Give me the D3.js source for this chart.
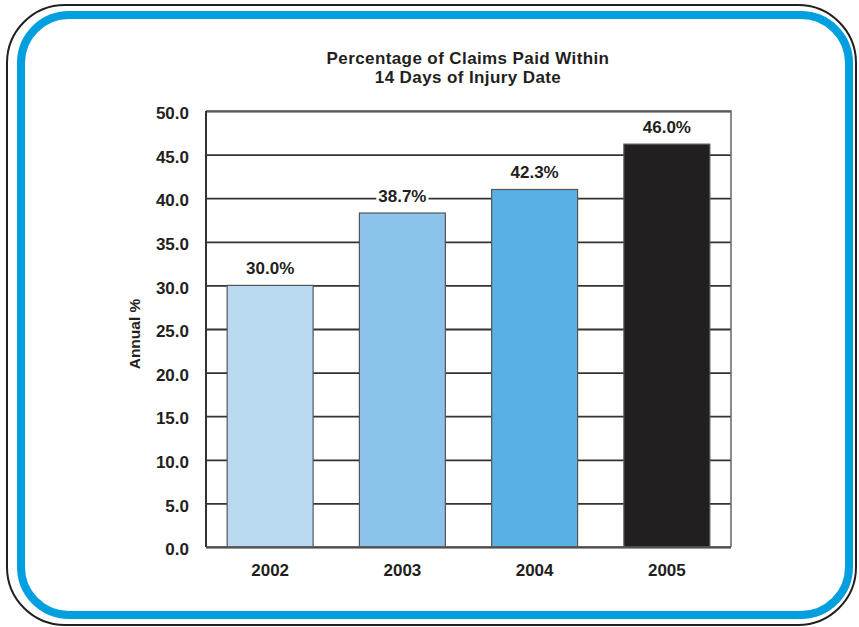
<!DOCTYPE html>
<html>
<head>
<meta charset="utf-8">
<script src="https://cdn.jsdelivr.net/npm/d3@7/dist/d3.min.js"></script>
<style>
  html, body { margin: 0; padding: 0; background: #fff; }
  svg { display: block; font-family: "Liberation Sans", Arial, sans-serif; }
</style>
</head>
<body>
<svg width="859" height="627"></svg>
<script>
// data
const years = ["2002", "2003", "2004", "2005"];
const barValues = [30.0, 38.3, 41.0, 46.2];          // bar heights as drawn
const valueLabels = ["30.0%", "38.7%", "42.3%", "46.0%"]; // printed labels
const barColors = ["#b9d9f1", "#8cc3ea", "#59b1e3", "#231f20"];
const yTicks = [0, 5, 10, 15, 20, 25, 30, 35, 40, 45, 50];
const titleLines = ["Percentage of Claims Paid Within", "14 Days of Injury Date"];

const svg = d3.select("svg");
const ink = "#231f20";

// rounded frames
svg.append("rect")
  .attr("x", 7).attr("y", 5).attr("width", 849).attr("height", 620)
  .attr("rx", 58).attr("ry", 58)
  .attr("fill", "none").attr("stroke", ink).attr("stroke-width", 2);
svg.append("rect")
  .attr("x", 21).attr("y", 15).attr("width", 828).attr("height", 600)
  .attr("rx", 48).attr("ry", 48)
  .attr("fill", "none").attr("stroke", "#009fdf").attr("stroke-width", 8);

const margin = {left: 206, top: 111, right: 731, bottom: 547};
const width = margin.right - margin.left;
const height = margin.bottom - margin.top;

const x = d3.scaleBand()
  .domain(years)
  .range([0, width])
  .paddingInner(0.35)
  .paddingOuter(0.16);

const y = d3.scaleLinear()
  .domain([0, 50])
  .range([height, 0]);

const g = svg.append("g").attr("transform", "translate(" + margin.left + "," + margin.top + ")");

// title
svg.append("text")
  .attr("text-anchor", "middle")
  .attr("font-weight", "bold")
  .attr("font-size", 17)
  .attr("letter-spacing", "0.4px")
  .attr("fill", ink)
  .selectAll("tspan")
  .data(titleLines)
  .enter().append("tspan")
  .attr("x", 468)
  .attr("y", function (d, i) { return 64 + i * 19; })
  .text(function (d) { return d; });

// gridlines
const grid = g.append("g")
  .call(d3.axisRight(y).tickValues(yTicks).tickSize(width).tickFormat(""));
grid.select(".domain").remove();
grid.selectAll("line").attr("stroke", "#333").attr("stroke-width", 1.8);

// bars
const rows = years.map(function (d, i) {
  return {year: d, value: barValues[i], label: valueLabels[i], color: barColors[i]};
});

g.selectAll("rect.bar")
  .data(rows)
  .enter().append("rect")
  .attr("class", "bar")
  .attr("x", function (d) { return x(d.year); })
  .attr("y", function (d) { return y(d.value); })
  .attr("width", x.bandwidth())
  .attr("height", function (d) { return height - y(d.value); })
  .attr("fill", function (d) { return d.color; })
  .attr("stroke", "#555")
  .attr("stroke-width", 1.2);

// plot frame: top and right thin, left axis darker
g.append("path")
  .attr("d", "M0,0H" + width + "V" + height)
  .attr("fill", "none").attr("stroke", "#666").attr("stroke-width", 1.5);
g.append("line")
  .attr("x1", 0).attr("x2", 0).attr("y1", 0).attr("y2", height)
  .attr("stroke", "#333").attr("stroke-width", 2);
g.append("line")
  .attr("x1", 0).attr("x2", width).attr("y1", height).attr("y2", height)
  .attr("stroke", "#555").attr("stroke-width", 1.5);

// value labels with white backing
const lab = g.selectAll("g.lab")
  .data(rows)
  .enter().append("g")
  .attr("class", "lab")
  .attr("transform", function (d) {
    return "translate(" + (x(d.year) + x.bandwidth() / 2) + "," + (y(d.value) - 11.5) + ")";
  });
const bg = lab.append("rect").attr("fill", "#fff");
lab.append("text")
  .attr("text-anchor", "middle")
  .attr("font-weight", "bold")
  .attr("font-size", 17)
  .attr("fill", ink)
  .text(function (d) { return d.label; });
lab.each(function () {
  const b = d3.select(this).select("text").node().getBBox();
  d3.select(this).select("rect")
    .attr("x", b.x - 2).attr("y", b.y)
    .attr("width", b.width + 4).attr("height", b.height);
});

// y axis labels
const yAxis = g.append("g")
  .call(d3.axisLeft(y).tickValues(yTicks).tickSize(0).tickPadding(17).tickFormat(d3.format(".1f")));
yAxis.select(".domain").remove();
yAxis.selectAll("text")
  .attr("font-family", "Liberation Sans, Arial, sans-serif")
  .attr("font-size", 17)
  .attr("font-weight", "bold")
  .attr("fill", ink)
  .attr("dy", "0.45em");

// x axis labels
const xAxis = g.append("g")
  .attr("transform", "translate(0," + height + ")")
  .call(d3.axisBottom(x).tickSize(0).tickPadding(17));
xAxis.select(".domain").remove();
xAxis.selectAll("text")
  .attr("font-family", "Liberation Sans, Arial, sans-serif")
  .attr("font-size", 17)
  .attr("font-weight", "bold")
  .attr("fill", ink);

// y title
svg.append("text")
  .attr("transform", "translate(140,334) rotate(-90)")
  .attr("text-anchor", "middle")
  .attr("font-weight", "bold")
  .attr("font-size", 15.5)
  .attr("fill", ink)
  .text("Annual %");
</script>
</body>
</html>
